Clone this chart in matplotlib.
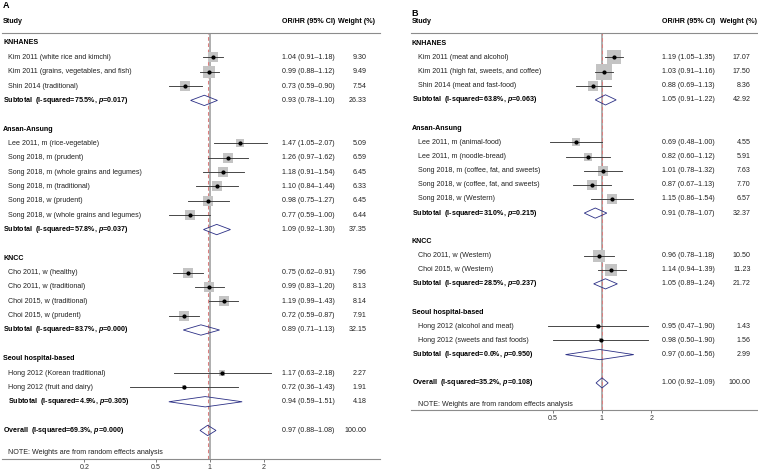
import numpy as np
import matplotlib
matplotlib.use('Agg')
import matplotlib.pyplot as plt
from matplotlib.transforms import blended_transform_factory
from matplotlib.patches import Polygon

plt.rcParams['font.family'] = ['Liberation Sans', 'DejaVu Sans']
plt.rcParams['mathtext.fontset'] = 'custom'
plt.rcParams['mathtext.rm'] = 'Liberation Sans:bold'
plt.rcParams['mathtext.it'] = 'Liberation Sans:italic:bold'

groups = ['KNHANES', 'Ansan-Ansung', 'KNCC', 'Seoul hospital-based']

# Panel A
a_group = [0, 0, 0, 1, 1, 1, 1, 1, 1, 2, 2, 2, 2, 3, 3]
a_study = ['Kim 2011 (white rice and kimchi)', 'Kim 2011 (grains, vegetables, and fish)',
           'Shin 2014 (traditional)',
           'Lee 2011, m (rice-vegetable)', 'Song 2018, m (prudent)',
           'Song 2018, m (whole grains and legumes)', 'Song 2018, m (traditional)',
           'Song 2018, w (prudent)', 'Song 2018, w (whole grains and legumes)',
           'Cho 2011, w (healthy)', 'Cho 2011, w (traditional)',
           'Choi 2015, w (traditional)', 'Choi 2015, w (prudent)',
           'Hong 2012 (Korean traditional)', 'Hong 2012 (fruit and dairy)']
a_or = [1.04, 0.99, 0.73, 1.47, 1.26, 1.18, 1.10, 0.98, 0.77, 0.75, 0.99, 1.19, 0.72, 1.17, 0.72]
a_lo = [0.91, 0.88, 0.59, 1.05, 0.97, 0.91, 0.84, 0.75, 0.59, 0.62, 0.83, 0.99, 0.59, 0.63, 0.36]
a_hi = [1.18, 1.12, 0.90, 2.07, 1.62, 1.54, 1.44, 1.27, 1.00, 0.91, 1.20, 1.43, 0.87, 2.18, 1.43]
a_wt = [9.30, 9.49, 7.54, 5.09, 6.59, 6.45, 6.33, 6.45, 6.44, 7.96, 8.13, 8.14, 7.91, 2.27, 1.91]
a_sub_i2 = [75.5, 57.8, 83.7, 4.9]
a_sub_p = ['0.017', '0.037', '0.000', '0.305']
a_sub_or = [0.93, 1.09, 0.89, 0.94]
a_sub_lo = [0.78, 0.92, 0.71, 0.59]
a_sub_hi = [1.10, 1.30, 1.13, 1.51]
a_sub_wt = [26.33, 37.35, 32.15, 4.18]
a_all = [0.97, 0.88, 1.08]
a_all_i2 = 69.3
a_all_p = '0.000'
a_ticks = [0.2, 0.5, 1, 2]

# Panel B
b_group = [0, 0, 0, 1, 1, 1, 1, 1, 2, 2, 3, 3]
b_study = ['Kim 2011 (meat and alcohol)', 'Kim 2011 (high fat, sweets, and coffee)',
           'Shin 2014 (meat and fast-food)',
           'Lee 2011, m (animal-food)', 'Lee 2011, m (noodle-bread)',
           'Song 2018, m (coffee, fat, and sweets)', 'Song 2018, w (coffee, fat, and sweets)',
           'Song 2018, w (Western)',
           'Cho 2011, w (Western)', 'Choi 2015, w (Western)',
           'Hong 2012 (alcohol and meat)', 'Hong 2012 (sweets and fast foods)']
b_or = [1.19, 1.03, 0.88, 0.69, 0.82, 1.01, 0.87, 1.15, 0.96, 1.14, 0.95, 0.98]
b_lo = [1.05, 0.91, 0.69, 0.48, 0.60, 0.78, 0.67, 0.86, 0.78, 0.94, 0.47, 0.50]
b_hi = [1.35, 1.16, 1.13, 1.00, 1.12, 1.32, 1.13, 1.54, 1.18, 1.39, 1.90, 1.90]
b_wt = [17.07, 17.50, 8.36, 4.55, 5.91, 7.63, 7.70, 6.57, 10.50, 11.23, 1.43, 1.56]
b_sub_i2 = [63.8, 31.0, 28.5, 0.0]
b_sub_p = ['0.063', '0.215', '0.237', '0.950']
b_sub_or = [1.05, 0.91, 1.05, 0.97]
b_sub_lo = [0.91, 0.78, 0.89, 0.60]
b_sub_hi = [1.22, 1.07, 1.24, 1.56]
b_sub_wt = [42.92, 32.37, 21.72, 2.99]
b_all = [1.00, 0.92, 1.09]
b_all_i2 = 35.2
b_all_p = '0.108'
b_ticks = [0.5, 1, 2]

W, H = 758, 471
FS = 5.1
TXT = '#222222'
fig = plt.figure(figsize=(W / 100, H / 100), dpi=100)


def ci_text(o, l, h):
    return f'{o:.2f} ({l:.2f}\u2013{h:.2f})'


def draw_panel(letter, letter_y, x0, x1, bottom, row0, step, xone, scale,
               study_x, col_or, col_wt, hdr_wt, group, study, orr, lo, hi, wt,
               sub_i2, sub_p, sub_or, sub_lo, sub_hi, sub_wt,
               all_ci, all_i2, all_p, ticks, sub_indent):
    top_px = 32.5
    ax = fig.add_axes([x0 / W, 1 - bottom / H, (x1 - x0) / W, (bottom - top_px) / H])
    ax.set_xscale('log')
    ax.set_xlim(np.exp((x0 - xone) / scale), np.exp((x1 - xone) / scale))
    ax.set_ylim((bottom - row0) / step, (top_px - row0) / step)
    for s in ['left', 'right']:
        ax.spines[s].set_visible(False)
    for s in ['top', 'bottom']:
        ax.spines[s].set_color('#8c8c8c')
        ax.spines[s].set_linewidth(0.8)
    ax.set_yticks([])
    ax.set_xticks(ticks)
    ax.set_xticklabels([f'{t:g}' for t in ticks])
    ax.xaxis.set_minor_locator(matplotlib.ticker.NullLocator())
    ax.tick_params(axis='x', length=2.2, width=0.6, color='#666666', labelsize=FS,
                   pad=1.2, labelcolor='#333333')
    ax.patch.set_visible(False)

    tr = blended_transform_factory(fig.transFigure, ax.transData)
    hx = (x0 + 0.5) / W
    sx = study_x / W

    # headers
    fig.text(hx, 1 - letter_y / H, letter, fontsize=6.5, fontweight='bold', va='center')
    fig.text(hx, 1 - 21.7 / H, 'Study', fontsize=FS, fontweight='bold', va='center')
    fig.text(col_or / W, 1 - 21.7 / H, 'OR/HR (95% CI)', fontsize=FS, fontweight='bold', va='center')
    fig.text(hdr_wt / W, 1 - 21.7 / H, 'Weight (%)', fontsize=FS, fontweight='bold',
             va='center', ha='right')

    # reference lines
    ax.axvline(1, color='#a8a8a8', lw=1.3, zorder=1)
    ax.axvline(all_ci[0], color='#dc8080', lw=0.75, ls=(0, (3.5, 2.5)), zorder=1.5)

    k = 3.6 * 0.72  # square side in points per sqrt(weight)
    r = 0
    for g, name in enumerate(groups):
        ax.text(hx, r, name, transform=tr, fontsize=FS, fontweight='bold', va='center')
        r += 1
        for i in [j for j in range(len(group)) if group[j] == g]:
            ax.plot([lo[i], hi[i]], [r, r], color='#3a3a3a', lw=0.65, zorder=3)
            ax.scatter([orr[i]], [r], marker='s', s=(k * np.sqrt(wt[i])) ** 2,
                       color='#c4c4c4', linewidths=0, zorder=2)
            ax.plot([orr[i]], [r], 'o', color='black', ms=2.0, zorder=4)
            ax.text(sx, r, study[i], transform=tr, fontsize=FS, color=TXT, va='center')
            ax.text(col_or / W, r, ci_text(orr[i], lo[i], hi[i]), transform=tr,
                    fontsize=FS, color=TXT, va='center')
            ax.text(col_wt / W, r, f'{wt[i]:.2f}', transform=tr, fontsize=FS,
                    color=TXT, va='center', ha='right')
            r += 1
        dia = Polygon([(sub_lo[g], r), (sub_or[g], r - 0.36), (sub_hi[g], r), (sub_or[g], r + 0.36)],
                      closed=True, fill=False, ec='#2b2f85', lw=0.6, zorder=3)
        ax.add_patch(dia)
        lx = sx if sub_indent[g] else hx
        ax.text(lx, r, f'Subtotal  (I-squared={sub_i2[g]:.1f}%, $\\mathit{{p}}$=' + sub_p[g] + ')',
                transform=tr, fontsize=FS, fontweight='bold', va='center')
        ax.text(col_or / W, r, ci_text(sub_or[g], sub_lo[g], sub_hi[g]), transform=tr,
                fontsize=FS, color=TXT, va='center')
        ax.text(col_wt / W, r, f'{sub_wt[g]:.2f}', transform=tr, fontsize=FS,
                color=TXT, va='center', ha='right')
        r += 2

    # overall
    o, l, h = all_ci
    ax.add_patch(Polygon([(l, r), (o, r - 0.36), (h, r), (o, r + 0.36)], closed=True,
                         fill=False, ec='#2b2f85', lw=0.6, zorder=3))
    ax.text(hx, r, f'Overall  (I-squared={all_i2:.1f}%, $\\mathit{{p}}$=' + all_p + ')',
            transform=tr, fontsize=FS, fontweight='bold', va='center')
    ax.text(col_or / W, r, ci_text(o, l, h), transform=tr, fontsize=FS, color=TXT, va='center')
    ax.text(col_wt / W, r, '100.00', transform=tr, fontsize=FS, color=TXT, va='center', ha='right')
    ax.text(sx, r + 1.53, 'NOTE: Weights are from random effects analysis', transform=tr,
            fontsize=FS, color=TXT, va='center')
    return ax


draw_panel('A', 5, 2.5, 380, 459, 43.0, 14.35, 210, 78,
           8, 282, 366.5, 375, a_group, a_study, a_or, a_lo, a_hi, a_wt,
           a_sub_i2, a_sub_p, a_sub_or, a_sub_lo, a_sub_hi, a_sub_wt,
           a_all, a_all_i2, a_all_p, a_ticks, [0, 0, 0, 1])

draw_panel('B', 14, 411, 758, 410, 43.3, 14.15, 602, 71.4,
           418, 662, 750.5, 756.5, b_group, b_study, b_or, b_lo, b_hi, b_wt,
           b_sub_i2, b_sub_p, b_sub_or, b_sub_lo, b_sub_hi, b_sub_wt,
           b_all, b_all_i2, b_all_p, b_ticks, [0, 0, 0, 0])

plt.savefig('out.png', dpi=100)
